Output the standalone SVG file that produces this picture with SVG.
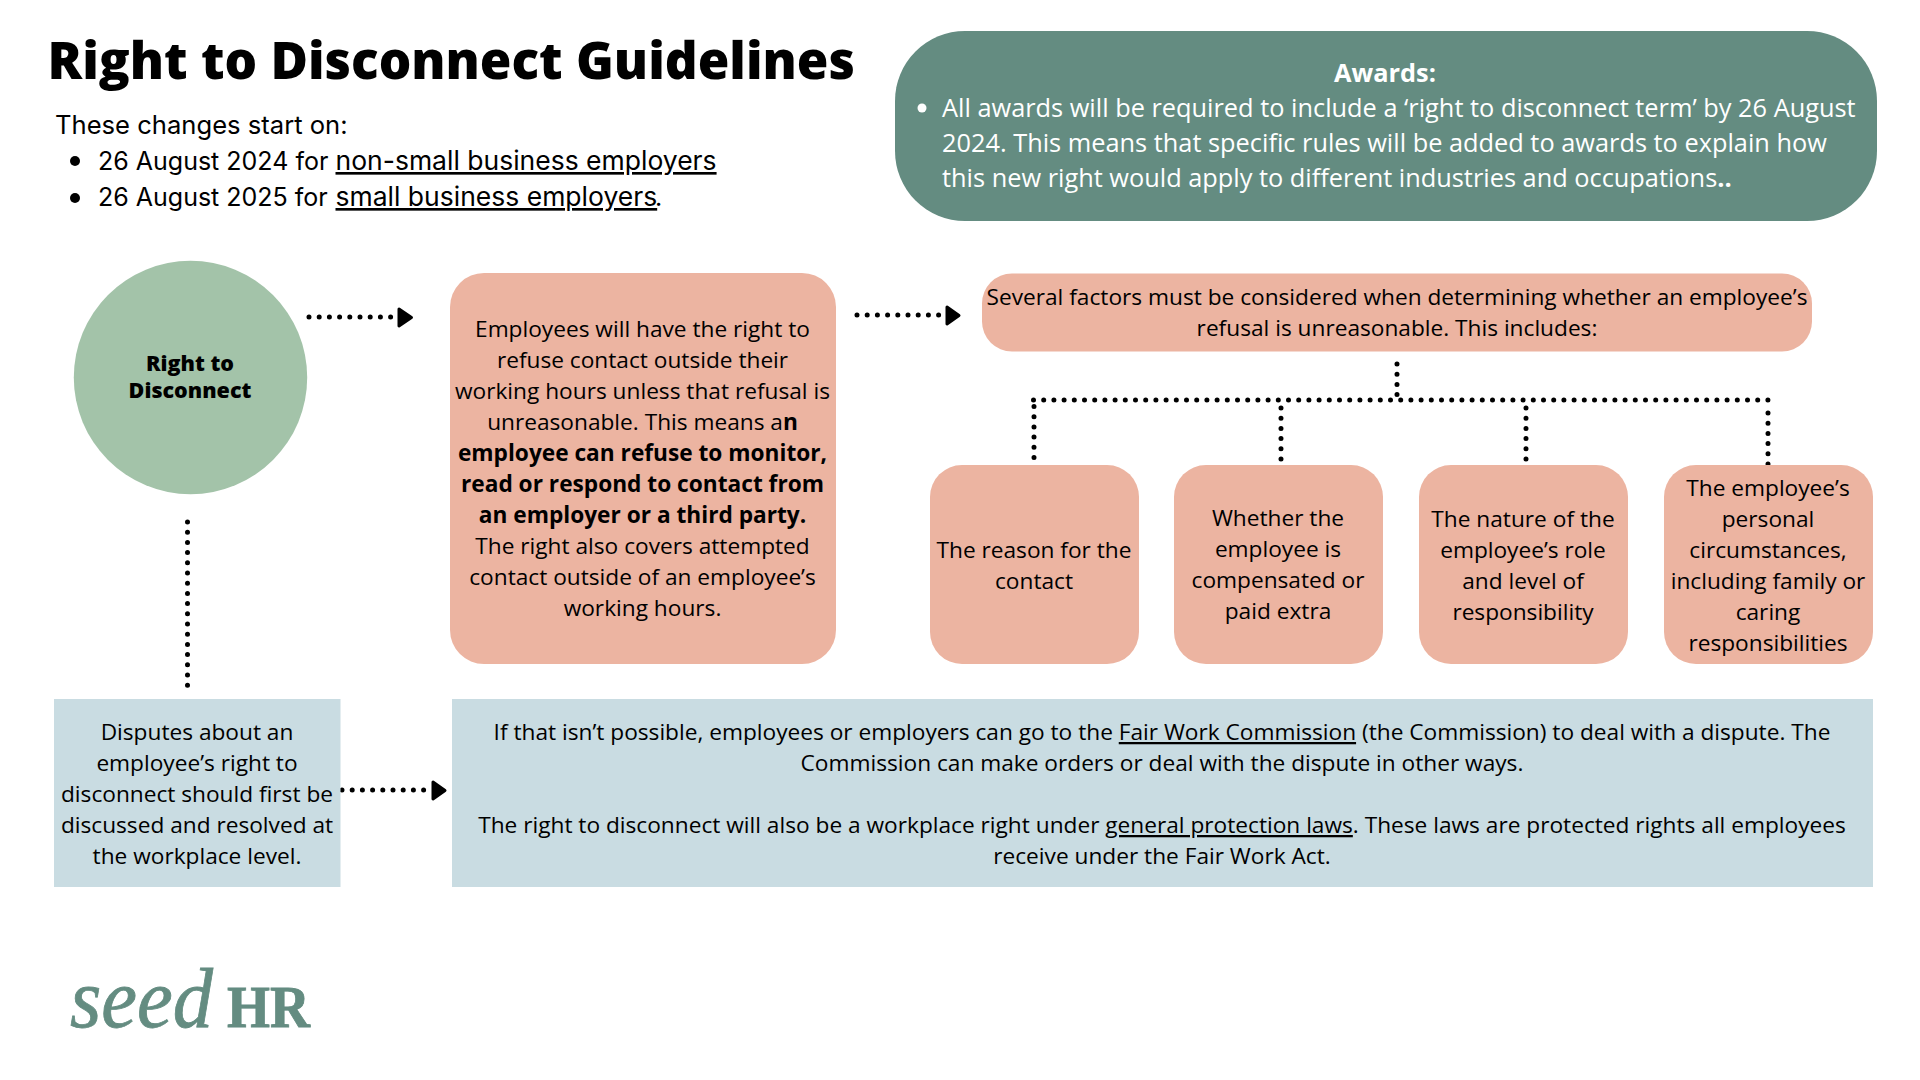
<svg xmlns="http://www.w3.org/2000/svg" width="1920" height="1080" viewBox="0 0 1920 1080">
<style>
text{font-family:"Open Sans","Noto Sans",sans-serif;fill:#000;font-size:22.68px}
.c{text-anchor:middle}
.b{font-weight:700}
.u{text-decoration:underline}
.salmon{fill:#ecb4a1}
.blue{fill:#c9dce2}
.intro{font-family:"Inter","Noto Sans",sans-serif;font-size:25px}
.lnk{font-size:26.5px}
.aw{fill:#fff;font-size:25.35px}
.dot{fill:none;stroke:#000;stroke-width:5;stroke-linecap:round;stroke-dasharray:0 10.2}
.head{fill:#000;stroke:#000;stroke-width:3;stroke-linejoin:round}
.logo{font-family:"Liberation Serif",serif;fill:#648c81;stroke:#648c81;stroke-width:.8}
.circ{font-size:21.5px;font-weight:800}
</style>
<rect width="1920" height="1080" fill="#fff"/>
<g id="title"><text x="47.500" y="79" style="font-size:51.2px;font-weight:800">Right to Disconnect Guidelines</text></g>
<g id="intro">
<text class="intro" x="55" y="134" style="font-size:25.6px">These changes start on:</text>
<circle cx="75" cy="161" r="5"/><circle cx="75" cy="198" r="5"/>
<text class="intro" x="98" y="170">26 August 2024 for</text>
<text class="intro u lnk" x="335.500" y="170">non-small business employers</text>
<text class="intro" x="98" y="206">26 August 2025 for</text>
<text class="intro u lnk" x="335.500" y="206">small business employers</text>
<text class="intro" x="655" y="206">.</text>
</g>
<g id="awards">
<rect x="895" y="31" width="982" height="190" rx="70" fill="#648c81"/>
<text class="aw b c" x="1385" y="82">Awards:</text>
<circle cx="922" cy="108" r="4.5" fill="#fff"/>
<text class="aw" x="942" y="117">All awards will be required to include a ‘right to disconnect term’ by 26 August</text>
<text class="aw" x="942" y="152">2024. This means that specific rules will be added to awards to explain how</text>
<text class="aw" x="942" y="187">this new right would apply to different industries and occupations<tspan class="b">..</tspan></text>
</g>
<g id="connectors">
<path class="dot" d="M309 317H392"/>
<path class="head" d="M399 309L411.500 317.500L399 326Z"/>
<path class="dot" d="M857 315H940"/>
<path class="head" d="M947 307L959 315.500L947 324Z"/>
<path class="dot" d="M342 790H425"/>
<path class="head" d="M433 782L445 790.500L433 799Z"/>
<path class="dot" d="M187.500 522V686"/>
<path class="dot" d="M1397 364V400"/>
<path class="dot" d="M1033.500 400H1768"/>
<path class="dot" d="M1034 406.500V458"/>
<path class="dot" d="M1281 408V459.500"/>
<path class="dot" d="M1526 408V459.500"/>
<path class="dot" d="M1768 413V465"/>
</g>
<g id="right-to-disconnect">
<circle cx="190.500" cy="377.500" r="116.700" fill="#a3c3a9"/>
<text class="c circ" x="190" y="371">Right to</text>
<text class="c circ" x="190" y="398">Disconnect</text>
</g>
<g id="employees-right">
<rect class="salmon" x="450" y="273" width="386" height="391" rx="34"/>
<text class="c" x="642.500" y="337">Employees will have the right to</text>
<text class="c" x="642.500" y="368">refuse contact outside their</text>
<text class="c" x="642.500" y="399">working hours unless that refusal is</text>
<text class="c" x="642.500" y="430">unreasonable. This means a<tspan class="b">n</tspan></text>
<text class="c b" x="642.500" y="461">employee can refuse to monitor,</text>
<text class="c b" x="642.500" y="492">read or respond to contact from</text>
<text class="c b" x="642.500" y="523">an employer or a third party.</text>
<text class="c" x="642.500" y="554">The right also covers attempted</text>
<text class="c" x="642.500" y="585">contact outside of an employee’s</text>
<text class="c" x="642.500" y="616">working hours.</text>
</g>
<g id="factors">
<rect class="salmon" x="982" y="273.500" width="830" height="78" rx="30"/>
<text class="c" x="1397" y="305">Several factors must be considered when determining whether an employee’s</text>
<text class="c" x="1397" y="336">refusal is unreasonable. This includes:</text>
</g>
<g id="factor-reason">
<rect class="salmon" x="930" y="465" width="209" height="199" rx="32"/>
<text class="c" x="1034" y="558">The reason for the</text>
<text class="c" x="1034" y="589">contact</text>
</g>
<g id="factor-compensated">
<rect class="salmon" x="1174" y="465" width="209" height="199" rx="32"/>
<text class="c" x="1278" y="526">Whether the</text>
<text class="c" x="1278" y="557">employee is</text>
<text class="c" x="1278" y="588">compensated or</text>
<text class="c" x="1278" y="619">paid extra</text>
</g>
<g id="factor-role">
<rect class="salmon" x="1419" y="465" width="209" height="199" rx="32"/>
<text class="c" x="1523" y="527">The nature of the</text>
<text class="c" x="1523" y="558">employee’s role</text>
<text class="c" x="1523" y="589">and level of</text>
<text class="c" x="1523" y="620">responsibility</text>
</g>
<g id="factor-personal">
<rect class="salmon" x="1664" y="465" width="209" height="199" rx="32"/>
<text class="c" x="1768" y="496">The employee’s</text>
<text class="c" x="1768" y="527">personal</text>
<text class="c" x="1768" y="558">circumstances,</text>
<text class="c" x="1768" y="589">including family or</text>
<text class="c" x="1768" y="620">caring</text>
<text class="c" x="1768" y="651">responsibilities</text>
</g>
<g id="disputes">
<rect class="blue" x="54" y="699" width="286.500" height="188"/>
<text class="c" x="197" y="740">Disputes about an</text>
<text class="c" x="197" y="771">employee’s right to</text>
<text class="c" x="197" y="802">disconnect should first be</text>
<text class="c" x="197" y="833">discussed and resolved at</text>
<text class="c" x="197" y="864">the workplace level.</text>
</g>
<g id="commission">
<rect class="blue" x="452" y="699" width="1421" height="188"/>
<text class="c" x="1162" y="740">If that isn’t possible, employees or employers can go to the <tspan class="u">Fair Work Commission</tspan> (the Commission) to deal with a dispute. The</text>
<text class="c" x="1162" y="771">Commission can make orders or deal with the dispute in other ways.</text>
<text class="c" x="1162" y="833">The right to disconnect will also be a workplace right under <tspan class="u">general protection laws</tspan>. These laws are protected rights all employees</text>
<text class="c" x="1162" y="864">receive under the Fair Work Act.</text>
</g>
<g id="logo">
<text class="logo" x="70" y="1027" textLength="143" lengthAdjust="spacingAndGlyphs" style="font-style:italic;font-size:84px">seed</text>
<text class="logo" x="227" y="1027" textLength="83" lengthAdjust="spacingAndGlyphs" style="font-weight:700;font-size:60px">HR</text>
</g>
</svg>
